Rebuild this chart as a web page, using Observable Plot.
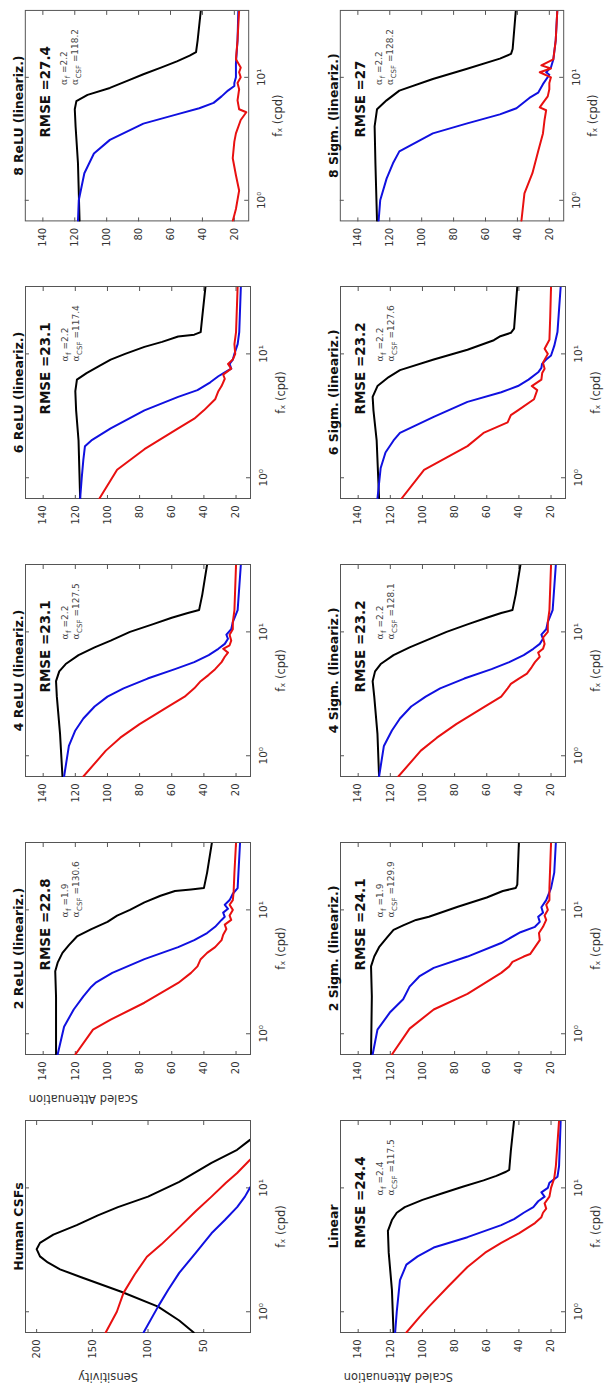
<!DOCTYPE html>
<html><head><meta charset="utf-8">
<script src="https://cdn.jsdelivr.net/npm/d3@7"></script>
<script src="https://cdn.jsdelivr.net/npm/@observablehq/plot@0.6"></script>
<style>
html,body{margin:0;padding:0;background:#fff;}
#page{position:relative;width:610px;height:1388px;overflow:hidden;background:#fff;}
#land{position:absolute;left:0;top:0;width:1388px;height:610px;transform-origin:0 0;transform:translate(0px,1388px) rotate(-90deg);}
.panel{position:absolute;}
</style></head><body>
<div id="page"><div id="land"></div></div>
<script>
// ---------- axes ----------
const X_DOMAIN = [0.68, 35];
const X_TICKS = [1, 10];
const X_TICK_LABELS = ["10\u2070", "10\u00B9"];
const X_LABEL = "f\u2093 (cpd)";
const ATT_DOMAIN = [11, 151];
const ATT_TICKS = [20, 40, 60, 80, 100, 120, 140];
const SENS_DOMAIN = [8, 210];
const SENS_TICKS = [50, 100, 150, 200];

// ---------- panel texts ----------
const TITLES_TOP = ["Human CSFs", "2 ReLU (lineariz.)", "4 ReLU (lineariz.)", "6 ReLU (lineariz.)", "8 ReLU (lineariz.)"];
const TITLES_BOTTOM = ["Linear", "2 Sigm. (lineariz.)", "4 Sigm. (lineariz.)", "6 Sigm. (lineariz.)", "8 Sigm. (lineariz.)"];
const YLABELS_TOP = ["Sensitivity", "Scaled Attenuation", null, null, null];
const YLABELS_BOTTOM = ["Scaled Attenuation", null, null, null, null];
const RMSE_TOP = [null, "22.8", "23.1", "23.1", "27.4"];
const RMSE_BOTTOM = ["24.4", "24.1", "23.2", "23.2", "27"];
const ALPHA_F_TOP = [null, "1.9", "2.2", "2.2", "2.2"];
const ALPHA_F_BOTTOM = ["2.4", "1.9", "2.2", "2.2", "2.2"];
const ALPHA_CSF_TOP = [null, "130.6", "127.5", "117.4", "118.2"];
const ALPHA_CSF_BOTTOM = ["117.5", "129.9", "128.1", "127.6", "128.2"];

// ---------- series [f (cpd), value] ----------
const csf_black = [[0.68,59],[0.85,72],[1.1,91],[1.45,124],[1.9,160],[2.2,179],[2.5,190],[2.8,197],[3.2,200],[3.6,197],[4.2,185],[5.0,164],[6.0,145],[7.0,127],[8.5,100],[11.2,72],[15.9,43],[20.3,20],[24.4,8.5],[26,4]];
const csf_red = [[0.68,138],[1.0,128],[1.42,122],[2.0,112],[2.78,101],[3.5,88],[4.8,72],[6.5,57],[8.5,43],[11,30],[13.2,20],[16.8,8.6],[18,5]];
const csf_blue = [[0.68,104],[1.1,91],[1.5,82],[2.06,72],[3.0,57],[4.3,43],[5.5,31],[7.0,20],[8.5,13],[10,8.6],[11,5]];

const lin_black = [[0.68,118],[1.5,119],[3,121],[4.5,121.5],[5.5,119],[6.3,116],[7,111],[8,100],[9,88],[10.2,75],[11.5,62],[12.5,54],[13.5,48],[14,46],[20,45],[35,43]];
const lin_blue = [[0.68,117],[1.0,116],[1.8,114],[2.4,110],[2.8,103],[3.3,93],[4.0,72],[5.0,51],[5.6,43],[6.3,37],[7.0,31],[7.8,28],[8.5,24],[9.2,26],[10,22],[11,21],[12.3,16],[15,15],[35,14]];
const lin_red = [[0.68,110],[0.9,102],[1.1,96],[1.6,84],[2.3,72],[3.0,61],[3.6,51],[4.3,40],[5.2,30],[5.8,26],[6.3,25],[6.8,23],[7.5,24],[8.5,21],[10,20],[12,18],[15,17],[35,15]];

const relu2_black = [[0.68,132],[2,132],[3.2,132.5],[3.75,131],[4.5,128],[5.2,124],[6.1,119],[7,110],[8,100],[9,94],[10,86],[11.5,77],[13,67],[14.2,58],[14.6,48],[15,40],[20,38],[35,35]];
const relu2_blue = [[0.68,131],[1.14,127],[1.57,121],[2.0,115],[2.4,110],[2.6,107],[3.1,97],[4.0,77],[5.0,56],[5.7,46],[6.5,38],[7.3,33],[8.3,29],[8.8,27],[9.5,28],[10.2,25],[11,27],[12,24],[13.5,22],[15,19],[20,18.5],[35,17.5]];
const relu2_red = [[0.68,120],[1.08,109],[1.3,98],[1.78,77],[2.57,56],[3.1,48],[3.5,44],[4.0,42],[4.5,38],[5.0,33],[5.7,29],[6.3,28],[7,26],[7.6,27],[8.3,23],[9,24],[10,22],[11,24],[12,22],[14,21.5],[20,21],[35,20]];

const relu4_black = [[0.68,128],[1.5,129.5],[3,131.5],[4,132],[4.8,130],[5.5,126],[6.5,118],[7.5,108],[8.5,98],[10,86],[11.5,72],[13,60],[14.2,50],[15,43],[20,41],[35,38]];
const relu4_blue = [[0.68,127],[1.2,124],[1.6,120],[2.0,115],[2.5,108],[3.0,100],[3.5,90],[4.2,75],[5.0,58],[5.7,46],[6.5,37],[7.3,31],[8,27],[8.8,25],[9.5,26],[10.5,23],[12,22],[15,19],[35,17]];
const relu4_red = [[0.68,115],[1.1,101],[1.4,92],[1.8,80],[2.5,62],[3.0,52],[3.5,46],[4.0,42],[4.5,37],[5.0,33],[5.7,29],[6.3,27],[6.8,25],[7.3,28],[7.8,24],[8.5,23],[9.5,24],[10.5,22],[12,22],[15,21],[35,20]];

const relu6_black = [[0.68,117],[2,118],[3.5,119.5],[5,120],[6.2,119],[7,113],[8,105],[9,98],[10,89],[11.4,77],[12.5,66],[13.8,56],[14.3,46],[15,42],[20,41],[35,39]];
const relu6_blue = [[0.68,117],[1.0,116],[1.4,115],[1.8,114],[2.0,110],[2.5,98],[3.5,77],[4.5,56],[5.1,44],[5.9,36],[6.6,31],[7.1,27],[7.6,23],[8.3,24],[9.0,22],[10,21],[12,19],[15,18],[35,17]];
const relu6_red = [[0.68,105],[1.16,94],[1.7,77],[2.5,56],[3.0,46],[3.5,40],[4.3,33],[5.0,31],[5.5,29],[6.3,27],[6.8,28],[7.6,23],[8.3,25],[9,22],[10,20.5],[12,21],[15,20],[35,19]];

const relu8_black = [[0.68,117],[2,118],[4,119.5],[5.5,120],[6.4,119],[7.2,112],[8.2,98],[9.5,86],[10.6,77],[12,66],[13.5,56],[15,48],[15.5,46],[16,44],[20,43],[35,41]];
const relu8_blue = [[0.68,118],[1.0,117.5],[1.66,114],[2.4,108],[3.1,98],[4.2,77],[5.0,56],[5.6,42],[6.2,33],[7.0,28],[7.8,24],[8.5,20],[9,20],[10,19],[13,19],[20,18],[35,17.5]];
const relu8_red = [[0.68,21],[0.85,19],[1.2,17],[1.6,19],[2.2,21],[3.0,20],[3.5,19],[4.5,16],[5.2,12.5],[5.5,17],[6.5,18],[8,17],[9,18],[10,16],[11,17],[12,16],[14,19],[20,18],[35,17]];

const sig2_black = [[0.68,132],[2,131.5],[3.5,132],[4.2,130],[5.0,127],[6,122],[6.9,118],[7.5,112],[8.3,104],[8.8,96],[10.6,78],[12.6,60],[14.2,50],[15,42],[16,41],[35,40]];
const sig2_blue = [[0.68,131],[1.08,128],[1.5,120],[1.9,112],[2.4,108],[2.9,102],[3.4,93],[4.2,72],[5.4,51],[6.6,39],[7.3,30],[8,27],[8.8,28],[9.5,25],[10.5,26],[12,23],[15,20],[20,18],[35,17]];
const sig2_red = [[0.68,119],[1.1,108],[1.57,93],[2.1,72],[3.1,51],[3.5,46],[3.8,44],[4.2,37],[4.4,33],[5.0,30],[5.7,27],[6.5,27.5],[7.3,25],[8.3,23],[9,24],[10,22],[11,23],[12,21],[15,21],[35,20]];

const sig4_black = [[0.68,127],[1.5,128],[3,130],[4,131],[4.8,129.5],[5.5,126],[6.5,118],[7.5,108],[8.5,98],[10,85],[11.5,72],[13,60],[14.2,51],[15,44],[20,42],[35,39]];
const sig4_blue = [[0.68,127],[1.2,124],[1.6,119],[2.0,114],[2.5,107],[3.0,98],[3.5,89],[4.2,74],[5.0,57],[5.7,46],[6.5,37],[7.3,31],[8,27],[8.8,25],[9.5,26],[10.5,23],[12,22],[15,19],[35,17]];
const sig4_red = [[0.68,115],[1.1,101],[1.4,91],[1.8,79],[2.5,61],[3.0,51],[3.5,47],[3.8,45],[4.2,40],[4.6,35],[5.2,32],[5.7,30],[6.3,27],[6.8,28],[7.3,25],[8,24],[9,25],[10,22],[12,22],[15,21],[35,20]];

const sig6_black = [[0.68,127],[2,128.5],[3.5,130.5],[4.5,131],[5.5,128],[6.5,121],[7.4,114],[9.0,93],[10.8,72],[12.9,55.6],[13.8,52],[14.8,45],[16,43],[35,41]];
const sig6_blue = [[0.68,128],[1.2,126],[1.6,123],[2.0,118],[2.3,114],[3.1,93],[4.1,72],[4.9,51],[5.5,40.6],[6.2,34],[7.1,28],[7.7,26],[8.3,25.6],[9.0,23],[9.7,20],[11.6,18],[15,16],[35,14]];
const sig6_red = [[0.68,113],[1.16,99],[1.8,72],[2.3,62],[2.8,47],[3.2,45],[3.5,40.6],[4.3,30.6],[5.1,28.6],[5.5,32],[6.2,26],[7,25.5],[7.6,24],[8.5,25],[10,22],[11,24],[13,21],[20,20.5],[35,20]];

const sig8_black = [[0.68,128],[2,129],[4,129.5],[5.5,128],[6.5,122],[7.8,114],[9.7,93],[11.7,72],[14.2,51],[15.5,44],[17,43],[35,41]];
const sig8_blue = [[0.68,127],[1.0,126],[1.5,122],[2.0,118],[2.5,114],[3.5,93],[4.2,72],[5.0,51],[5.6,40.6],[6.8,32.5],[7.5,27],[8.8,24],[10.5,20],[11,22],[12,19],[14,17.5],[20,16],[35,15]];
const sig8_red = [[0.68,37.5],[1.14,35.6],[1.66,30.6],[2.5,27],[3.5,24],[4.5,23],[5.4,22],[5.7,26],[6.2,24],[7,21],[8,20],[9,20],[10,19],[11,26],[11.8,19],[12.5,25],[14,17.5],[20,16],[35,15]];

const SERIES_TOP = [
  [csf_black, csf_red, csf_blue],
  [relu2_black, relu2_blue, relu2_red],
  [relu4_black, relu4_blue, relu4_red],
  [relu6_black, relu6_blue, relu6_red],
  [relu8_black, relu8_blue, relu8_red]
];
const SERIES_BOTTOM = [
  [lin_black, lin_blue, lin_red],
  [sig2_black, sig2_blue, sig2_red],
  [sig4_black, sig4_blue, sig4_red],
  [sig6_black, sig6_blue, sig6_red],
  [sig8_black, sig8_blue, sig8_red]
];
const COLORS_TOP0 = ["#000000", "#e81010", "#1010e0"];
const COLORS = ["#000000", "#1010e0", "#e81010"];

// ---------- drawing ----------
const W = 278, H = 295, ML = 55, MR = 11, MT = 25, MB = 45;
const BW = W - ML - MR, BH = H - MT - MB;
const FONT = "DejaVu Sans";
const ctx = document.createElement("canvas").getContext("2d");
function tw(s, font) { ctx.font = font; return ctx.measureText(s).width; }

function alphaLine(sub, val, dy) {
  const x0 = 137, fs = 9, fsub = 7;
  const wA = tw("\u03B1", `${fs}px 'DejaVu Serif'`);
  const wS = tw(sub, `${fsub}px '${FONT}'`);
  const common = {text: d => d, frameAnchor: "top-left", textAnchor: "start", lineAnchor: "bottom", fill: "#444"};
  return [
    Plot.text(["\u03B1"], {...common, dx: x0, dy, fontFamily: "DejaVu Serif", fontSize: fs}),
    Plot.text([sub], {...common, dx: x0 + wA + 0.5, dy: dy + 3, fontSize: fsub}),
    Plot.text(["=" + val], {...common, dx: x0 + wA + wS + 3.5, dy, fontSize: fs})
  ];
}

function panel(series, colors, title, ylabel, rmse, af, acsf, sens) {
  const yDomain = sens ? SENS_DOMAIN : ATT_DOMAIN;
  const yTicks = sens ? SENS_TICKS : ATT_TICKS;
  const marks = [
    Plot.frame({stroke: "#555", strokeWidth: 1}),
    Plot.ruleX(X_TICKS, {x: d => d, insetTop: BH - 4, stroke: "#555"}),
    Plot.ruleX(X_TICKS, {x: d => d, insetBottom: BH - 4, stroke: "#555"}),
    Plot.ruleY(yTicks, {y: d => d, insetRight: BW - 4, stroke: "#555"}),
    Plot.ruleY(yTicks, {y: d => d, insetLeft: BW - 4, stroke: "#555"}),
    ...series.map((s, i) => Plot.line(s, {x: d => d[0], y: d => d[1], stroke: colors[i], strokeWidth: 2, clip: true})),
    Plot.axisX(X_TICKS, {anchor: "bottom", tickSize: 0, tickPadding: 9, tickFormat: d => X_TICK_LABELS[X_TICKS.indexOf(d)], fontSize: 10.5, fill: "#333", label: null}),
    Plot.axisY(yTicks, {anchor: "left", tickSize: 0, tickPadding: 7, fontSize: 10, fill: "#333", label: null}),
    Plot.text([X_LABEL], {text: d => d, frameAnchor: "bottom", dy: 34, fontSize: 11.5, fill: "#333"}),
    Plot.text([title], {text: d => d, frameAnchor: "top", dy: -11, fontSize: 12.5, fontWeight: "bold", fill: "#111"})
  ];
  if (ylabel) marks.push(Plot.text([ylabel], {text: d => d, frameAnchor: "left", rotate: -90, dx: -44, fontSize: 11.5, fill: "#333"}));
  if (rmse) marks.push(Plot.text(["RMSE =" + rmse], {text: d => d, frameAnchor: "top-left", dx: 84, dy: 15, textAnchor: "start", fontSize: 13.5, fontWeight: "bold", fill: "#111"}));
  if (af) marks.push(...alphaLine("f", af, 42), ...alphaLine("CSF", acsf, 53));
  return Plot.plot({
    width: W, height: H, marginLeft: ML, marginRight: MR, marginTop: MT, marginBottom: MB,
    x: {type: "log", domain: X_DOMAIN},
    y: {domain: yDomain},
    style: {fontFamily: FONT, background: "transparent", overflow: "visible"},
    marks
  });
}

const land = document.getElementById("land");
for (let r = 0; r < 2; r++) {
  for (let k = 0; k < 5; k++) {
    const top = r === 0;
    const svg = panel(
      top ? SERIES_TOP[k] : SERIES_BOTTOM[k],
      (top && k === 0) ? COLORS_TOP0 : COLORS,
      top ? TITLES_TOP[k] : TITLES_BOTTOM[k],
      top ? YLABELS_TOP[k] : YLABELS_BOTTOM[k],
      top ? RMSE_TOP[k] : RMSE_BOTTOM[k],
      top ? ALPHA_F_TOP[k] : ALPHA_F_BOTTOM[k],
      top ? ALPHA_CSF_TOP[k] : ALPHA_CSF_BOTTOM[k],
      top && k === 0
    );
    const div = document.createElement("div");
    div.className = "panel";
    div.style.left = (278 * k) + "px";
    div.style.top = (315 * r) + "px";
    div.appendChild(svg);
    land.appendChild(div);
  }
}
</script></body></html>
